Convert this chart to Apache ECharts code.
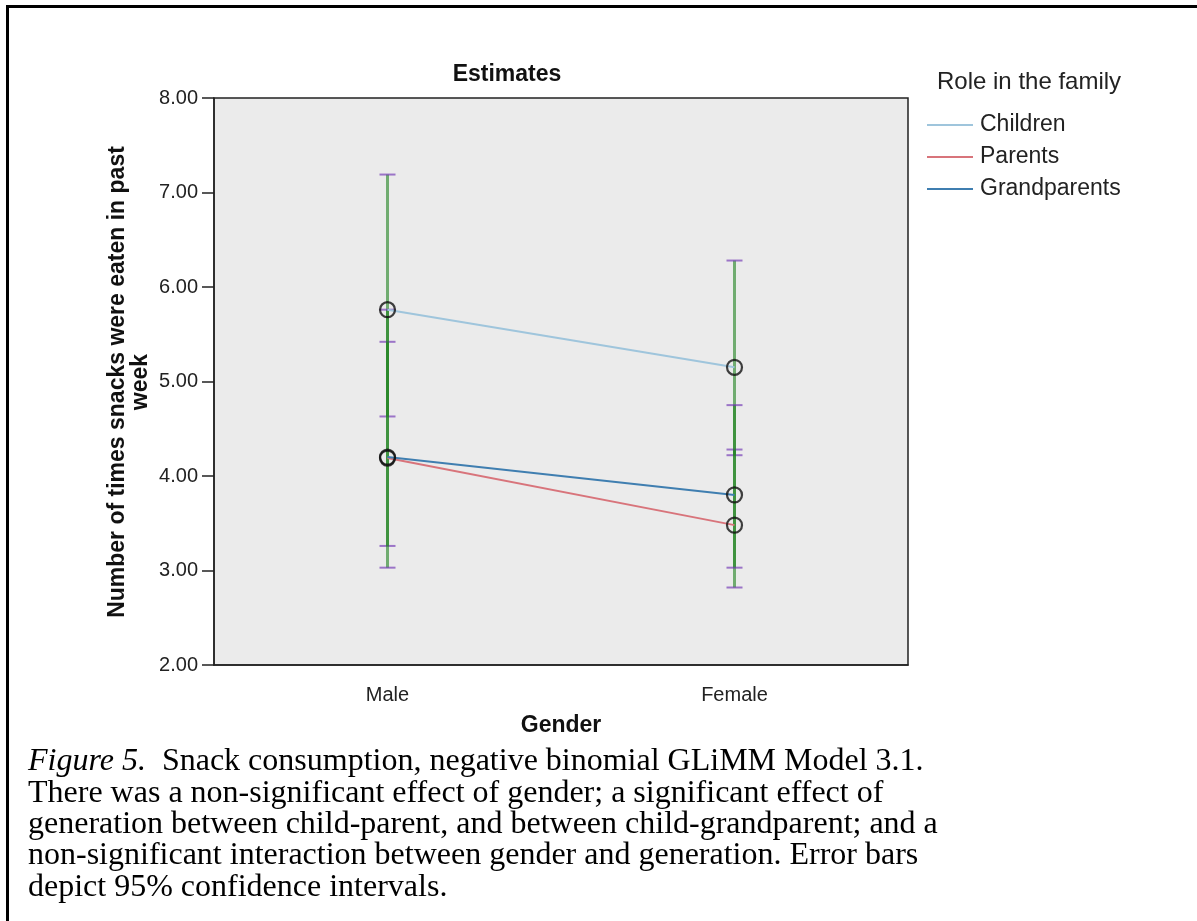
<!DOCTYPE html>
<html><head><meta charset="utf-8">
<script src="https://cdn.jsdelivr.net/npm/echarts@6/dist/echarts.min.js"></script>
<style>html,body{margin:0;padding:0;background:#fff}#c{width:1197px;height:921px}</style>
</head><body><div id="c"></div>
<script>
// ---- data ----
const categories = ['Male', 'Female'];
const seriesNames = ['Children', 'Parents', 'Grandparents'];
const childrenMean = [5.76, 5.15];
const childrenLower = [4.63, 4.22];
const childrenUpper = [7.19, 6.28];
const parentsMean = [4.19, 3.48];
const parentsLower = [3.26, 2.82];
const parentsUpper = [5.42, 4.28];
const grandMean = [4.20, 3.80];
const grandLower = [3.03, 3.03];
const grandUpper = [5.76, 4.75];
const yMin = 2, yMax = 8, yStep = 1;
const captionLines = [
  '{i|Figure 5.}  Snack consumption, negative binomial GLiMM Model 3.1.',
  'There was a non-significant effect of gender; a significant effect of',
  'generation between child-parent, and between child-grandparent; and a',
  'non-significant interaction between gender and generation. Error bars',
  'depict 95% confidence intervals.'
];

const SANS = '"Liberation Sans", Arial, sans-serif';
const SERIF = '"Liberation Serif", "Times New Roman", serif';
const lineColors = ['#9fc5dc', '#d8747b', '#3f7eb0'];
const means = [childrenMean, parentsMean, grandMean];
const lowers = [childrenLower, parentsLower, grandLower];
const uppers = [childrenUpper, parentsUpper, grandUpper];

const chart = echarts.init(document.getElementById('c'), null, {renderer: 'canvas'});

const series = [];
// error bars
means.forEach((m, s) => {
  series.push({
    type: 'custom',
    name: 'ci_' + seriesNames[s],
    z: 2,
    silent: true,
    encode: {x: 0, y: [1, 2]},
    data: categories.map((c, i) => [i, lowers[s][i], uppers[s][i]]),
    renderItem: function (params, api) {
      const x = api.value(0);
      const lo = api.coord([x, api.value(1)]);
      const hi = api.coord([x, api.value(2)]);
      const hw = 8;
      const capStyle = {stroke: 'rgba(112,52,180,0.65)', lineWidth: 2};
      return {
        type: 'group',
        children: [
          {type: 'line', shape: {x1: lo[0], y1: lo[1], x2: hi[0], y2: hi[1]},
           style: {stroke: 'rgba(30,130,30,0.6)', lineWidth: 3}},
          {type: 'line', shape: {x1: hi[0] - hw, y1: hi[1], x2: hi[0] + hw, y2: hi[1]}, style: capStyle},
          {type: 'line', shape: {x1: lo[0] - hw, y1: lo[1], x2: lo[0] + hw, y2: lo[1]}, style: capStyle}
        ]
      };
    }
  });
});
// lines
means.forEach((m, s) => {
  series.push({
    type: 'line',
    name: seriesNames[s],
    z: 3,
    data: m,
    symbol: 'none',
    color: lineColors[s],
    lineStyle: {color: lineColors[s], width: 2},
    silent: true,
    animation: false
  });
});
// markers
means.forEach((m, s) => {
  series.push({
    type: 'scatter',
    name: 'pt_' + seriesNames[s],
    z: 4,
    data: m,
    symbol: 'circle',
    symbolSize: 15,
    itemStyle: {color: 'rgba(0,0,0,0)', borderColor: '#111', borderWidth: 2.2},
    silent: true
  });
});

const graphics = [
  {type: 'rect', silent: true, z: 100,
   shape: {x: 7.5, y: 6.5, width: 1400, height: 1200},
   style: {fill: 'none', stroke: '#000', lineWidth: 3}},
  {type: 'text', x: 507, y: 75, silent: true,
   style: {text: 'Estimates', font: 'bold 23px ' + SANS, fill: '#111',
           textAlign: 'center', textVerticalAlign: 'middle'}},
  {type: 'text', x: 937, y: 82, silent: true,
   style: {text: 'Role in the family', font: '24px ' + SANS, fill: '#222',
           textAlign: 'left', textVerticalAlign: 'middle'}},
  {type: 'text', x: 129, y: 382, rotation: Math.PI / 2, silent: true,
   style: {text: 'Number of times snacks were eaten in past\nweek', font: 'bold 23px ' + SANS,
           lineHeight: 23, fill: '#111', textAlign: 'center', textVerticalAlign: 'middle'}}
];
captionLines.forEach((t, i) => {
  graphics.push({
    type: 'text', x: 28, y: 762 + i * 31.3, silent: true,
    style: {text: t, font: '32px ' + SERIF, fontFamily: SERIF, fontSize: 32, fill: '#000',
            textAlign: 'left', textVerticalAlign: 'middle',
            rich: {i: {fontStyle: 'italic', fontFamily: SERIF, fontSize: 32, fill: '#000'}}}
  });
});

chart.setOption({
  animation: false,
  backgroundColor: '#ffffff',
  grid: {left: 214, top: 98, width: 694, height: 567, show: true,
         backgroundColor: '#ebebeb', borderColor: '#222', borderWidth: 1.5,
         containLabel: false, outerBoundsMode: 'none'},
  legend: {
    data: seriesNames,
    orient: 'vertical',
    left: 927, top: 113,
    icon: 'rect', itemWidth: 46, itemHeight: 2, itemGap: 8,
    padding: 0,
    selectedMode: false,
    textStyle: {fontSize: 23, fontFamily: SANS, color: '#222', lineHeight: 24, padding: [0, 0, 0, 2]}
  },
  xAxis: {
    type: 'category', data: categories, boundaryGap: true,
    axisLine: {lineStyle: {color: '#222', width: 1.5}},
    axisTick: {alignWithLabel: true, length: 8, lineStyle: {color: '#222', width: 1.5}},
    axisLabel: {margin: 20, fontSize: 20, fontFamily: SANS, color: '#222'},
    splitLine: {show: false},
    name: 'Gender', nameLocation: 'middle', nameGap: 49,
    nameTextStyle: {fontSize: 23, fontWeight: 'bold', fontFamily: SANS, color: '#111'}
  },
  yAxis: {
    type: 'value', min: yMin, max: yMax, interval: yStep,
    axisLine: {show: true, lineStyle: {color: '#222', width: 1.5}},
    axisTick: {show: true, length: 12, lineStyle: {color: '#222', width: 1.5}},
    axisLabel: {margin: 16, fontSize: 20, fontFamily: SANS, color: '#222',
                formatter: v => v.toFixed(2)},
    splitLine: {show: false}
  },
  graphic: graphics,
  series: series
});
</script></body></html>
